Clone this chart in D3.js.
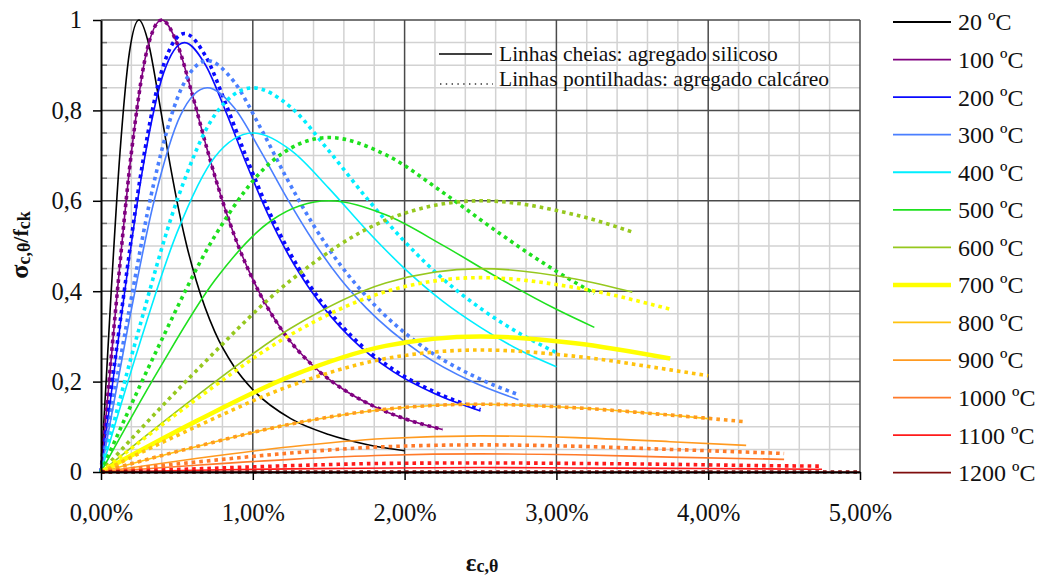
<!DOCTYPE html>
<html><head><meta charset="utf-8">
<script src="https://cdn.jsdelivr.net/npm/d3@7"></script>
<style>body{margin:0;background:#fff}svg{display:block}</style>
</head><body>
<svg id="chart" width="1041" height="577"></svg>
<script>
// ---------- data ----------
const temperatures = ["20 ºC","100 ºC","200 ºC","300 ºC","400 ºC","500 ºC","600 ºC","700 ºC","800 ºC","900 ºC","1000 ºC","1100 ºC","1200 ºC"];
const colors = ["#000000","#800080","#0a0aff","#4a7fff","#00eeff","#1ee01e","#96c81e","#ffff00","#ffc20e","#ff9a20","#ff7a2a","#ff1a1a","#7f0d0d"];
const xTickValues = [0,1,2,3,4,5];
const xTickLabels = ["0,00%","1,00%","2,00%","3,00%","4,00%","5,00%"];
const yTickValues = [0,0.2,0.4,0.6,0.8,1];
const yTickLabels = ["0","0,2","0,4","0,6","0,8","1"];

// strain (%) , sigma/fck — siliceous (solid lines)
const sil20 = [[0,0],[0.0625,0.372],[0.125,0.706],[0.1875,0.929],[0.25,1],[0.3125,0.949],[0.375,0.837],[0.4375,0.713],[0.5,0.600],[0.5625,0.504],[0.625,0.426],[0.75,0.310],[0.875,0.234],[1.0,0.182],[1.25,0.118],[1.5,0.083],[1.75,0.061],[2.0,0.047]];
const sil100 = [[0,0],[0.1,0.372],[0.2,0.706],[0.3,0.929],[0.4,1],[0.5,0.949],[0.6,0.837],[0.7,0.713],[0.8,0.600],[0.9,0.504],[1.0,0.426],[1.2,0.310],[1.4,0.234],[1.6,0.182],[1.8,0.145],[2.0,0.118],[2.25,0.094]];
const sil200 = [[0,0],[0.1375,0.353],[0.275,0.671],[0.4125,0.883],[0.55,0.95],[0.6875,0.901],[0.825,0.795],[0.9625,0.678],[1.1,0.570],[1.2375,0.479],[1.375,0.405],[1.65,0.295],[1.925,0.222],[2.2,0.173],[2.5,0.135]];
const sil300 = [[0,0],[0.175,0.316],[0.35,0.600],[0.525,0.790],[0.7,0.85],[0.875,0.807],[1.05,0.711],[1.225,0.606],[1.4,0.510],[1.575,0.428],[1.75,0.362],[2.1,0.264],[2.45,0.199],[2.75,0.160]];
const sil400 = [[0,0],[0.25,0.279],[0.5,0.529],[0.75,0.697],[1.0,0.75],[1.25,0.712],[1.5,0.628],[1.75,0.535],[2.0,0.450],[2.25,0.378],[2.5,0.320],[2.75,0.271],[3.0,0.233]];
const sil500 = [[0,0],[0.375,0.223],[0.75,0.424],[1.125,0.557],[1.5,0.6],[1.875,0.569],[2.25,0.502],[2.625,0.428],[3.0,0.360],[3.25,0.320]];
const sil600 = [[0,0],[0.625,0.167],[1.25,0.318],[1.875,0.418],[2.5,0.45],[3.125,0.427],[3.5,0.398]];
const sil700 = [[0,0],[0.625,0.112],[1.25,0.212],[1.875,0.279],[2.5,0.30],[3.125,0.285],[3.75,0.251]];
const sil800 = [[0,0],[0.625,0.056],[1.25,0.106],[1.875,0.139],[2.5,0.15],[3.125,0.142],[3.75,0.126],[4.0,0.118]];
const sil900 = [[0,0],[0.625,0.030],[1.25,0.056],[1.875,0.074],[2.5,0.08],[3.125,0.076],[3.75,0.067],[4.25,0.059]];
const sil1000 = [[0,0],[0.625,0.015],[1.25,0.028],[1.875,0.037],[2.5,0.04],[3.125,0.038],[3.75,0.033],[4.5,0.028]];
const sil1100 = [[0,0],[0.625,0.004],[1.25,0.007],[1.875,0.009],[2.5,0.01],[3.125,0.009],[3.75,0.008],[4.375,0.007],[4.75,0.006]];
const sil1200 = [[0,0],[5.0,0]];

// calcareous (dotted lines)
const cal100 = [[0,0],[0.1,0.372],[0.2,0.706],[0.3,0.929],[0.4,1],[0.5,0.949],[0.6,0.837],[0.7,0.713],[0.8,0.600],[0.9,0.504],[1.0,0.426],[1.2,0.310],[1.4,0.234],[1.6,0.182],[1.8,0.145],[2.0,0.118],[2.25,0.094]];
const cal200 = [[0,0],[0.1375,0.361],[0.275,0.685],[0.4125,0.901],[0.55,0.97],[0.6875,0.921],[0.825,0.812],[0.9625,0.692],[1.1,0.582],[1.2375,0.489],[1.375,0.413],[1.65,0.301],[1.925,0.227],[2.2,0.177],[2.5,0.138]];
const cal300 = [[0,0],[0.175,0.339],[0.35,0.642],[0.525,0.845],[0.7,0.91],[0.875,0.864],[1.05,0.762],[1.225,0.649],[1.4,0.546],[1.575,0.459],[1.75,0.388],[2.1,0.282],[2.45,0.213],[2.75,0.171]];
const cal400 = [[0,0],[0.25,0.316],[0.5,0.600],[0.75,0.790],[1.0,0.85],[1.25,0.807],[1.5,0.711],[1.75,0.606],[2.0,0.510],[2.25,0.428],[2.5,0.362],[2.75,0.308],[3.0,0.264]];
const cal500 = [[0,0],[0.375,0.275],[0.75,0.522],[1.125,0.687],[1.5,0.74],[1.875,0.702],[2.25,0.619],[2.625,0.528],[3.0,0.444],[3.25,0.395]];
const cal600 = [[0,0],[0.625,0.223],[1.25,0.424],[1.875,0.557],[2.5,0.60],[3.125,0.569],[3.5,0.531]];
const cal700 = [[0,0],[0.625,0.160],[1.25,0.304],[1.875,0.399],[2.5,0.43],[3.125,0.408],[3.75,0.360]];
const cal800 = [[0,0],[0.625,0.100],[1.25,0.191],[1.875,0.251],[2.5,0.27],[3.125,0.256],[3.75,0.226],[4.0,0.213]];
const cal900 = [[0,0],[0.625,0.056],[1.25,0.106],[1.875,0.139],[2.5,0.15],[3.125,0.142],[3.75,0.126],[4.25,0.111]];
const cal1000 = [[0,0],[0.625,0.022],[1.25,0.042],[1.875,0.056],[2.5,0.06],[3.125,0.057],[3.75,0.050],[4.5,0.041]];
const cal1100 = [[0,0],[0.625,0.007],[1.25,0.014],[1.875,0.019],[2.5,0.02],[3.125,0.019],[3.75,0.017],[4.375,0.014],[4.75,0.013]];
const cal1200 = [[0,0],[5.0,0]];

const siliceous = [sil20,sil100,sil200,sil300,sil400,sil500,sil600,sil700,sil800,sil900,sil1000,sil1100,sil1200];
const calcareous = [null,cal100,cal200,cal300,cal400,cal500,cal600,cal700,cal800,cal900,cal1000,cal1100,cal1200];

// ---------- drawing ----------
const svg = d3.select("#chart");
svg.append("rect").attr("width",1041).attr("height",577).attr("fill","#fff");
const x = d3.scaleLinear().domain([0,5]).range([101,860]);
const y = d3.scaleLinear().domain([0,1]).range([472,20]);
const font = "'Liberation Serif','Times New Roman',serif";

// minor grid
const minorX = d3.range(1,25).map(i=>i*0.2).filter(v=>Math.abs(v-Math.round(v))>1e-6);
const minorY = d3.range(1,20).map(i=>i*0.05).filter(v=>Math.abs(v*5-Math.round(v*5))>1e-6);
const grid = svg.append("g");
grid.selectAll(".mx").data(minorX).join("line")
  .attr("x1",d=>x(d)).attr("x2",d=>x(d)).attr("y1",y(0)).attr("y2",y(1))
  .attr("stroke","#d2d2d2").attr("stroke-width",1.5);
grid.selectAll(".my").data(minorY).join("line")
  .attr("y1",d=>y(d)).attr("y2",d=>y(d)).attr("x1",x(0)).attr("x2",x(5))
  .attr("stroke","#d2d2d2").attr("stroke-width",1.5);
// minor y ticks (inside)
grid.selectAll(".mt").data(minorY).join("line")
  .attr("y1",d=>y(d)).attr("y2",d=>y(d)).attr("x1",x(0)).attr("x2",x(0)+6)
  .attr("stroke","#777").attr("stroke-width",1.5);
// major grid
grid.selectAll(".Mx").data(xTickValues.slice(1)).join("line")
  .attr("x1",d=>x(d)).attr("x2",d=>x(d)).attr("y1",y(0)).attr("y2",y(1))
  .attr("stroke","#4a4a4a").attr("stroke-width",1.5);
grid.selectAll(".My").data(yTickValues.slice(1)).join("line")
  .attr("y1",d=>y(d)).attr("y2",d=>y(d)).attr("x1",x(0)).attr("x2",x(5))
  .attr("stroke","#4a4a4a").attr("stroke-width",1.5);

// series
const line = d3.line().x(d=>x(d[0])).y(d=>y(d[1])).curve(d3.curveMonotoneX);
const series = svg.append("g").attr("fill","none");
temperatures.forEach((t,i)=>{
  series.append("path").attr("d",line(siliceous[i]))
    .attr("stroke",colors[i]).attr("stroke-width", i===7?4.5:1.6)
    .attr("stroke-linejoin","round");
  if (calcareous[i]) {
    series.append("path").attr("d",line(calcareous[i]))
      .attr("stroke",colors[i]).attr("stroke-width",3.6)
      .attr("stroke-dasharray","3.6 4");
  }
});

// axes
const yAxis = d3.axisLeft(y).tickValues(yTickValues).tickFormat((d,i)=>yTickLabels[i])
  .tickSize(8).tickSizeOuter(0).tickPadding(11);
const gy = svg.append("g").attr("transform",`translate(${x(0)},0)`).call(yAxis);
const xAxis = d3.axisBottom(x).tickValues(xTickValues).tickFormat((d,i)=>xTickLabels[i])
  .tickSize(8).tickSizeOuter(0).tickPadding(24);
const gx = svg.append("g").attr("transform",`translate(0,${y(0)})`).call(xAxis);
[gx,gy].forEach(g=>{
  g.attr("font-family",null);
  g.select(".domain").attr("stroke","#000").attr("stroke-width",2);
  g.selectAll(".tick line").attr("stroke","#000").attr("stroke-width",1.5);
  g.selectAll(".tick text").attr("fill","#111").style("font-family",font).style("font-size","24.5px");
});

// axis titles
const yt = svg.append("text").attr("transform","translate(28,245) rotate(-90)")
  .attr("text-anchor","middle").style("font-family",font).style("font-weight","bold").attr("fill","#111");
yt.append("tspan").style("font-size","26px").text("σ");
yt.append("tspan").style("font-size","18px").attr("dy",2).text("c,θ");
yt.append("tspan").style("font-size","22px").attr("dy",-2).text("/f");
yt.append("tspan").style("font-size","18px").attr("dy",2).text("ck");

const xt = svg.append("text").attr("x",482).attr("y",571)
  .attr("text-anchor","middle").style("font-family",font).style("font-weight","bold").attr("fill","#111");
xt.append("tspan").style("font-size","25px").text("ε");
xt.append("tspan").style("font-size","18px").attr("dy",1).text("c,θ");

// inner note
const note = svg.append("g").style("font-family",font).style("font-size","21.5px").attr("fill","#111");
note.append("line").attr("x1",439).attr("x2",492).attr("y1",54).attr("y2",54).attr("stroke","#000").attr("stroke-width",1.5);
note.append("text").attr("x",499).attr("y",61).text("Linhas cheias: agregado silicoso");
note.append("line").attr("x1",440).attr("x2",493).attr("y1",84).attr("y2",84).attr("stroke","#333").attr("stroke-width",1.4).attr("stroke-dasharray","1.4 4.4");
note.append("text").attr("x",499).attr("y",86).text("Linhas pontilhadas: agregado calcáreo");

// legend
const leg = svg.append("g");
const legY = d3.scaleLinear().domain([0,12]).range([22,472.7]);
temperatures.forEach((t,i)=>{
  leg.append("line").attr("x1",893).attr("x2",951).attr("y1",legY(i)).attr("y2",legY(i))
    .attr("stroke",colors[i]).attr("stroke-width", i===7?4.5:1.8);
  leg.append("text").attr("x",958).attr("y",legY(i)).attr("dy","0.35em")
    .style("font-family",font).style("font-size","24px").attr("fill","#111").text(t);
});
</script>
</body></html>
